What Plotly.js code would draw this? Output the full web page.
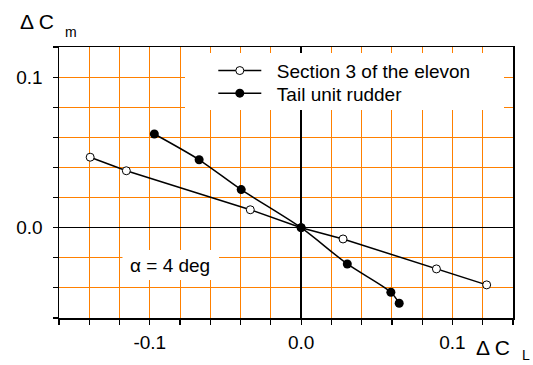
<!DOCTYPE html>
<html>
<head>
<meta charset="utf-8">
<script src="https://cdn.plot.ly/plotly-3.0.1.min.js"></script>
<style>html,body{margin:0;padding:0;background:#fff;}#chart{width:533px;height:365px;}</style>
</head>
<body>
<div id="chart"></div>
<script>
// Section 3 of the elevon (open circles)
const elevonName = 'Section 3 of the elevon';
const elevonCL = [-0.1394, -0.1155, -0.0336, 0.0, 0.0277, 0.0894, 0.1226];
const elevonCm = [0.0468, 0.0378, 0.0119, 0.0, -0.0075, -0.0274, -0.0380];

// Tail unit rudder (filled circles)
const rudderName = 'Tail unit rudder';
const rudderCL = [-0.0970, -0.0674, -0.0396, 0.0, 0.0305, 0.0593, 0.0648];
const rudderCm = [0.0622, 0.0451, 0.0253, 0.0, -0.0241, -0.0429, -0.0502];

// Axis ticks: every grid/minor tick position, and the labelled (long) ticks
const xGridVals = [-0.16, -0.14, -0.12, -0.10, -0.08, -0.06, -0.04, -0.02, 0.0, 0.02, 0.04, 0.06, 0.08, 0.10, 0.12, 0.14];
const xGridText = ['', '', '', '-0.1', '', '', '', '', '0.0', '', '', '', '', '0.1', '', ''];
const yGridVals = [-0.06, -0.04, -0.02, 0.0, 0.02, 0.04, 0.06, 0.08, 0.10, 0.12];
const yGridText = ['', '', '', '0.0', '', '', '', '', '0.1', ''];
const xMajorVals = [-0.1, 0.0, 0.1];
const yMajorVals = [0.0, 0.1];

const FONT = 'Arial, "Liberation Sans", sans-serif';
const FS = 19;
const ORANGE = 'rgb(255,128,0)';
const NB = '\u00a0\u00a0';

const traces = [
  {
    x: elevonCL, y: elevonCm, name: NB + elevonName, type: 'scatter', mode: 'lines+markers',
    line: {color: 'black', width: 1.5},
    marker: {symbol: 'circle', size: 8, color: 'white', line: {color: 'black', width: 1}},
    legend: 'legend'
  },
  {
    x: rudderCL, y: rudderCm, name: NB + rudderName, type: 'scatter', mode: 'lines+markers',
    line: {color: 'black', width: 1.5, shape: 'spline', smoothing: 0.8},
    marker: {symbol: 'circle', size: 9, color: 'black'},
    legend: 'legend2'
  }
];

const W = 533, H = 365, ML = 59, MR = 20, MT = 47, MB = 47;
const PW = W - ML - MR, PH = H - MT - MB;
const px = v => (v - ML) / PW;
const py = v => (H - MB - v) / PH;
const X_RANGE = [-0.16, 0.14];
const Y_RANGE = [-0.06, 0.12];

function mainAxis(extra) {
  return Object.assign({
    tickmode: 'array',
    ticks: 'outside', ticklen: 5, tickwidth: 1.2, tickcolor: 'black',
    tickfont: {family: FONT, size: FS, color: 'black'},
    showgrid: true, gridcolor: ORANGE, gridwidth: 1,
    zeroline: true, zerolinecolor: 'black', zerolinewidth: 1.5,
    showline: true, mirror: true, linecolor: 'black', linewidth: 1.5
  }, extra);
}

function longTickAxis(extra) {
  return Object.assign({
    tickmode: 'array', ticks: 'outside', ticklen: 9, tickwidth: 1.2, tickcolor: 'black',
    showticklabels: false, showgrid: false, zeroline: false, showline: false
  }, extra);
}

function makeLegend(yPix) {
  return {
    x: px(213.3), y: py(yPix), xanchor: 'left', yanchor: 'middle',
    bgcolor: 'rgba(0,0,0,0)', borderwidth: 0, itemwidth: 43,
    font: {family: FONT, size: FS, color: 'black'}
  };
}

const layout = {
  width: W, height: H,
  margin: {l: ML, r: MR, t: MT, b: MB, pad: 0},
  paper_bgcolor: 'white', plot_bgcolor: 'white',
  font: {family: FONT, size: FS, color: 'black'},
  xaxis: mainAxis({range: X_RANGE, tickvals: xGridVals, ticktext: xGridText, ticklabelstandoff: 2}),
  yaxis: mainAxis({range: Y_RANGE, tickvals: yGridVals, ticktext: yGridText, ticklabelstandoff: 6}),
  xaxis2: longTickAxis({range: X_RANGE, tickvals: xMajorVals, overlaying: 'x', anchor: 'y', side: 'bottom'}),
  yaxis2: longTickAxis({range: Y_RANGE, tickvals: yMajorVals, overlaying: 'y', anchor: 'x', side: 'left'}),
  showlegend: true,
  legend: makeLegend(70.7),
  legend2: makeLegend(93.3),
  shapes: [
    {type: 'rect', xref: 'paper', yref: 'paper', x0: px(185), x1: px(504), y0: py(110), y1: py(53),
     fillcolor: 'white', line: {width: 0}, layer: 'above'},
    {type: 'rect', xref: 'paper', yref: 'paper', x0: px(122.5), x1: px(219), y0: py(280), y1: py(250),
     fillcolor: 'white', line: {width: 0}, layer: 'above'}
  ],
  annotations: [
    {text: '\u03b1 = 4 deg', xref: 'paper', yref: 'paper', x: px(170), y: py(265.5), xanchor: 'center', yanchor: 'middle',
     showarrow: false, font: {family: FONT, size: FS, color: 'black'}},
    {text: '\u0394 C', xref: 'paper', yref: 'paper', x: px(18), y: py(22), xanchor: 'left', yanchor: 'middle',
     showarrow: false, font: {family: FONT, size: 21, color: 'black'}},
    {text: 'm', xref: 'paper', yref: 'paper', x: px(63), y: py(32), xanchor: 'left', yanchor: 'middle',
     showarrow: false, font: {family: FONT, size: 14, color: 'black'}},
    {text: '\u0394 C', xref: 'paper', yref: 'paper', x: px(474), y: py(347), xanchor: 'left', yanchor: 'middle',
     showarrow: false, font: {family: FONT, size: 21, color: 'black'}},
    {text: 'L', xref: 'paper', yref: 'paper', x: px(519.5), y: py(355), xanchor: 'left', yanchor: 'middle',
     showarrow: false, font: {family: FONT, size: 14, color: 'black'}}
  ]
};

Plotly.newPlot('chart', traces, layout, {displayModeBar: false, staticPlot: true});
</script>
</body>
</html>
